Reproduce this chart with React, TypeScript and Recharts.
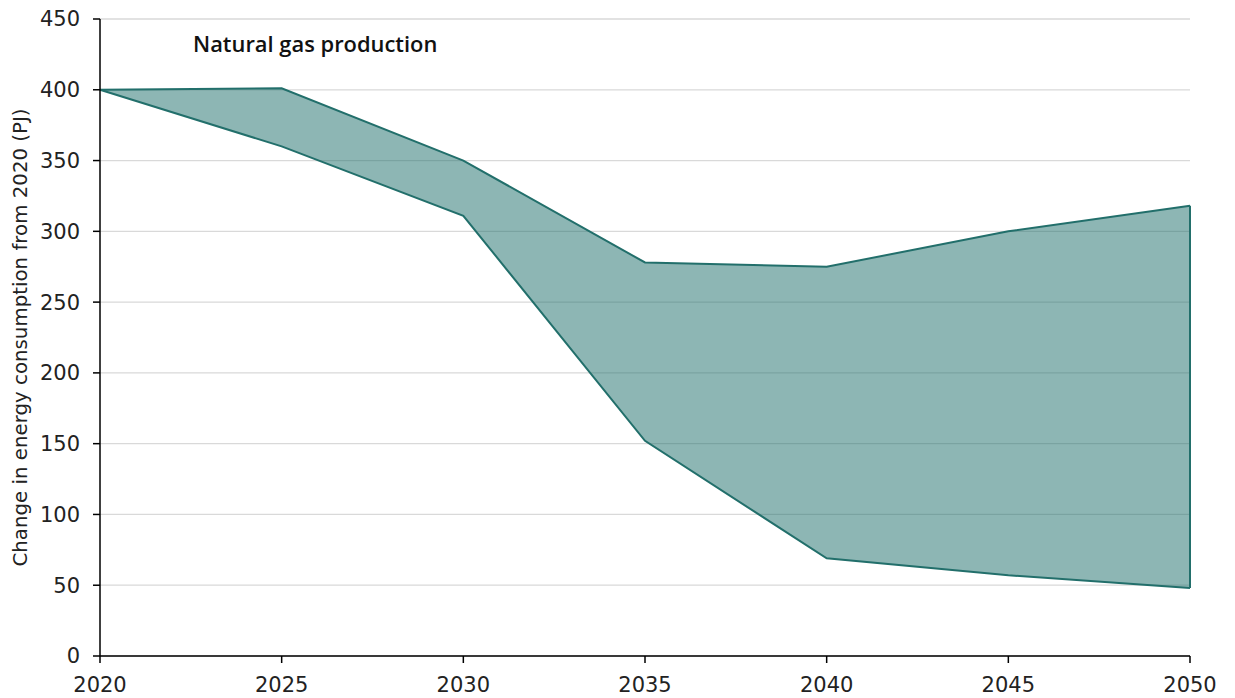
import React from 'react';
import { AreaChart, Area, XAxis, YAxis, CartesianGrid, ReferenceLine } from 'recharts';

const years = [2020, 2025, 2030, 2035, 2040, 2045, 2050];
const upper = [400, 401, 350, 278, 275, 300, 318];
const lower = [400, 360, 311, 152, 69, 57, 48];
const yTicks = [0, 50, 100, 150, 200, 250, 300, 350, 400, 450];
const xTicks = [2020, 2025, 2030, 2035, 2040, 2045, 2050];
const title = 'Natural gas production';
const yLabel = 'Change in energy consumption from 2020 (PJ)';

const data = years.map((y, i) => ({ year: y, range: [lower[i], upper[i]] }));

const FONT = '"DejaVu Sans", sans-serif';
const STROKE = '#226f6b';
const FILL = '#1b6d69';

const YLabel = (props: any) => {
  const vb = props.viewBox || {};
  const cx = 20;
  const cy = (vb.y ?? 0) + (vb.height ?? 0) / 2;
  return (
    <text
      x={cx}
      y={cy}
      transform={`rotate(-90, ${cx}, ${cy})`}
      textAnchor="middle"
      dominantBaseline="central"
      fontFamily={FONT}
      fontSize={19.8}
      fill="#222"
    >
      {yLabel}
    </text>
  );
};

export default function App() {
  const last = years.length - 1;
  return (
    <div style={{ position: 'absolute', left: 0, top: 0, width: 1235, height: 698, background: '#fff' }}>
      <AreaChart
        width={1235}
        height={698}
        data={data}
        margin={{ top: 19, right: 45, left: 0, bottom: 0 }}
      >
        <CartesianGrid vertical={false} stroke="#d9d9d9" strokeWidth={1.3} />
        <XAxis
          dataKey="year"
          type="number"
          domain={[2020, 2050]}
          ticks={xTicks}
          height={42}
          stroke="#000"
          tickSize={7}
          tickMargin={14}
          tick={{ fill: '#222', fontFamily: FONT, fontSize: 21 }}
          axisLine={{ stroke: '#000', strokeWidth: 1.5 }}
          tickLine={{ stroke: '#000', strokeWidth: 1.5 }}
        />
        <YAxis
          type="number"
          domain={[0, 450]}
          ticks={yTicks}
          width={100}
          tickSize={7}
          tickMargin={13}
          tick={{ fill: '#222', fontFamily: FONT, fontSize: 21 }}
          axisLine={{ stroke: '#000', strokeWidth: 1.5 }}
          tickLine={{ stroke: '#000', strokeWidth: 1.5 }}
          label={<YLabel />}
          interval={0}
        />
        <Area
          type="linear"
          dataKey="range"
          stroke={STROKE}
          strokeWidth={2}
          fill={FILL}
          fillOpacity={0.5}
          isAnimationActive={false}
          dot={false}
          activeDot={false}
        />
        <ReferenceLine
          segment={[
            { x: years[last], y: lower[last] },
            { x: years[last], y: upper[last] },
          ]}
          stroke={STROKE}
          strokeWidth={2}
          ifOverflow="visible"
        />
      </AreaChart>
      <div
        style={{
          position: 'absolute',
          left: 193,
          top: 33,
          fontFamily: '"Open Sans", sans-serif',
          fontWeight: 600,
          fontSize: 21.9,
          lineHeight: '21.9px',
          color: '#111',
          whiteSpace: 'nowrap',
        }}
      >
        {title}
      </div>
    </div>
  );
}
